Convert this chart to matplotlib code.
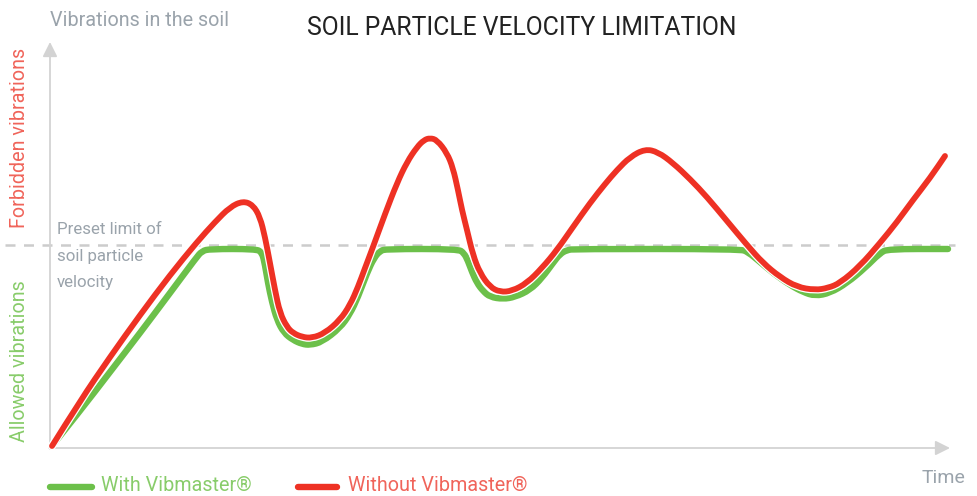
import matplotlib.pyplot as plt
import matplotlib.patheffects as pe
from matplotlib.path import Path
from matplotlib.patches import PathPatch

# Vibration curves (time, velocity in picture units; origin = axes corner)
t_without = [2, 30, 60, 90, 120, 147, 165, 180, 193, 203,
             210, 215, 220, 225, 230, 237, 243, 252, 262, 275,
             290, 300, 308, 315, 323, 335, 347, 357, 367, 374,
             380, 387, 397, 403, 408, 412, 417, 423, 430, 440,
             450, 462, 477, 492, 507, 523, 540, 555, 567, 580,
             595, 608, 623, 640, 657, 677, 697, 713, 730, 747,
             765, 778, 790, 810, 830, 847, 863, 880, 895]
v_without = [2, 47, 91, 133, 173, 206, 226, 241, 247, 243,
             231, 211, 185, 158, 135, 121, 115, 111, 110, 115,
             128, 143, 161, 180, 201, 234, 265, 286, 301, 308,
             310, 308, 295, 280, 258, 238, 218, 193, 175, 161,
             156, 157, 165, 180, 198, 221, 245, 264, 278, 291,
             299, 296, 285, 269, 251, 227, 203, 185, 171, 161,
             158, 160, 165, 182, 205, 226, 248, 270, 292]

t_with = [2, 30, 60, 90, 120, 146, 152, 160, 205, 212, 215,
          218, 222, 227, 234, 243, 252, 260, 272, 290, 300,
          308, 317, 324, 330, 336, 408, 414, 418, 422, 427,
          433, 440, 453, 465, 480, 492, 503, 510, 517, 525,
          690, 698, 710, 723, 740, 753, 765, 780, 797, 815,
          830, 838, 898]
v_with = [2, 37, 76, 115, 155, 190, 197, 199, 199, 196, 183,
          165, 146, 128, 115, 108, 104, 103, 106, 120, 134,
          151, 175, 190, 197, 199, 199, 195, 187, 176, 165,
          157, 151, 149, 151, 158, 170, 185, 194, 198, 199,
          199, 196, 186, 175, 163, 156, 152, 155, 165, 180,
          195, 199, 199]

preset_limit = 203

RED = "#ee3124"
GREEN = "#6cc04a"
RED_TXT = "#f0645a"
GREEN_TXT = "#88cc6a"
GRAY_TXT = "#9aa3ab"
AXIS_COL = "#d3d3d3"

plt.rcParams["font.family"] = ["Roboto", "DejaVu Sans"]


def smooth_path(xs, ys):
    # quadratic pieces through the midpoints -> rounded curve
    verts = [(xs[0], ys[0])]
    codes = [Path.MOVETO]
    for i in range(1, len(xs) - 1):
        mx = (xs[i] + xs[i + 1]) / 2
        my = (ys[i] + ys[i + 1]) / 2
        verts += [(xs[i], ys[i]), (mx, my)]
        codes += [Path.CURVE3, Path.CURVE3]
    verts.append((xs[-1], ys[-1]))
    codes.append(Path.LINETO)
    return Path(verts, codes)


fig = plt.figure(figsize=(9.77, 4.96), dpi=100)
ax = fig.add_axes([0, 0, 1, 1])
ax.set_xlim(-50, 927)
ax.set_ylim(-48, 448)
ax.axis("off")

# axes with arrows
ax.annotate("", xy=(0, 406), xytext=(0, -1),
            arrowprops=dict(arrowstyle="-|>", color=AXIS_COL, lw=1.3,
                            mutation_scale=22, shrinkA=0, shrinkB=0))
ax.annotate("", xy=(900, 0), xytext=(-1, 0),
            arrowprops=dict(arrowstyle="-|>", color=AXIS_COL, lw=1.3,
                            mutation_scale=22, shrinkA=0, shrinkB=0))

# preset limit
ax.plot([-45, 905], [preset_limit, preset_limit], color="#cccccc", lw=1.8,
        dashes=(4, 3.4), zorder=1)

# curves
green = PathPatch(smooth_path(t_with, v_with), fill=False, edgecolor=GREEN,
                  lw=4.6, capstyle="round", joinstyle="round", zorder=2)
ax.add_patch(green)
red = PathPatch(smooth_path(t_without, v_without), fill=False, edgecolor=RED,
                lw=4.2, capstyle="round", joinstyle="round", zorder=3,
                path_effects=[pe.Stroke(linewidth=6.0, foreground="white"),
                              pe.Normal()])
ax.add_patch(red)

# texts
ax.text(472, 420, "SOIL PARTICLE VELOCITY LIMITATION", ha="center", va="center",
        fontsize=17.8, color="#222222")
ax.text(0, 428, "Vibrations in the soil", ha="left", va="center",
        fontsize=14.2, color=GRAY_TXT)
ax.text(-30, 310, "Forbidden vibrations", rotation=90, ha="center", va="center",
        fontsize=14.2, color=RED_TXT)
ax.text(-30, 87, "Allowed vibrations", rotation=90, ha="center", va="center",
        fontsize=14.2, color=GREEN_TXT)
for yy, s in zip([218, 191, 165], ["Preset limit of", "soil particle", "velocity"]):
    ax.text(7, yy, s, ha="left", va="center", fontsize=12.2, color=GRAY_TXT)
ax.text(872, -30, "Time", ha="left", va="center", fontsize=14, color=GRAY_TXT)

# legend
ax.plot([0, 42], [-39, -39], color=GREEN, lw=4.6, solid_capstyle="round")
ax.text(51, -43, "With Vibmaster®", ha="left", va="baseline", fontsize=14.2,
        color=GREEN_TXT)
ax.plot([248, 287], [-39, -39], color=RED, lw=4.6, solid_capstyle="round")
ax.text(298, -43, "Without Vibmaster®", ha="left", va="baseline", fontsize=14.2,
        color=RED_TXT)

fig.savefig("out.png", dpi=100)
